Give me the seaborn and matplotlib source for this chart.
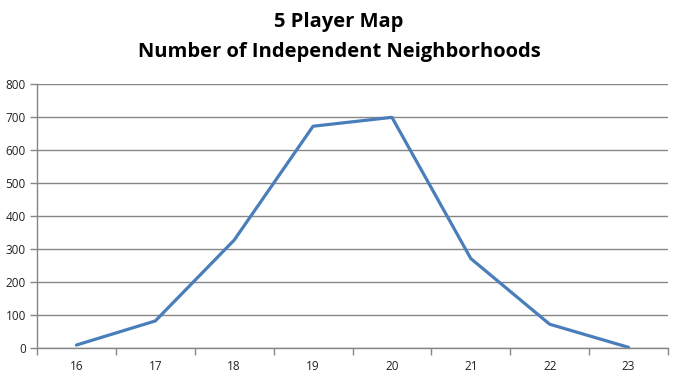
import matplotlib
matplotlib.use("Agg")
import matplotlib.pyplot as plt
import seaborn as sns
import pandas as pd
from matplotlib.ticker import FixedLocator, NullFormatter

categories = ["16", "17", "18", "19", "20", "21", "22", "23"]
values = [9, 82, 327, 672, 699, 271, 72, 2]
y_ticks = [0, 100, 200, 300, 400, 500, 600, 700, 800]

sns.set_theme(style="white")
plt.rcParams['font.family'] = ['Open Sans', 'DejaVu Sans']

df = pd.DataFrame({"cat": categories, "val": values})

fig = plt.figure(figsize=(6.78, 3.77), dpi=100)
ax = fig.add_axes([37/678, 1-348/377, (668-37)/678, (348-84)/377])

sns.lineplot(data=df, x="cat", y="val", ax=ax, color="#4A7EBB", linewidth=2.3,
             sort=False)

gray = "#868686"
ax.set_xlim(-0.5, len(categories) - 0.5)
ax.set_ylim(0, 800)
ax.set_yticks(y_ticks)
ax.set_yticklabels([str(v) for v in y_ticks])
ax.set_xticks(range(len(categories)))
ax.set_xticklabels(categories)
ax.xaxis.set_minor_locator(FixedLocator([i - 0.5 for i in range(len(categories) + 1)]))
ax.xaxis.set_minor_formatter(NullFormatter())
ax.tick_params(axis="x", which="major", length=0, pad=9, labelsize=8.5, labelcolor="#222222")
ax.tick_params(axis="x", which="minor", length=5, color=gray, width=1, direction="out", bottom=True)
ax.tick_params(axis="y", which="major", length=5, color=gray, width=1, direction="out",
               left=True, labelsize=8.5, labelcolor="#222222", pad=3)
ax.set_xlabel("")
ax.set_ylabel("")

ax.grid(axis="y", color=gray, linewidth=1)
ax.set_axisbelow(True)
for s in ["top", "right"]:
    ax.spines[s].set_visible(False)
for s in ["left", "bottom"]:
    ax.spines[s].set_color(gray)
    ax.spines[s].set_linewidth(1)

fig.text(0.5, 1 - 22/377, "5 Player Map", ha="center", va="center",
         fontsize=14.5, fontweight="bold", color="black")
fig.text(0.5, 1 - 52/377, "Number of Independent Neighborhoods", ha="center", va="center",
         fontsize=14.5, fontweight="bold", color="black")

fig.savefig("out.png", dpi=100)
